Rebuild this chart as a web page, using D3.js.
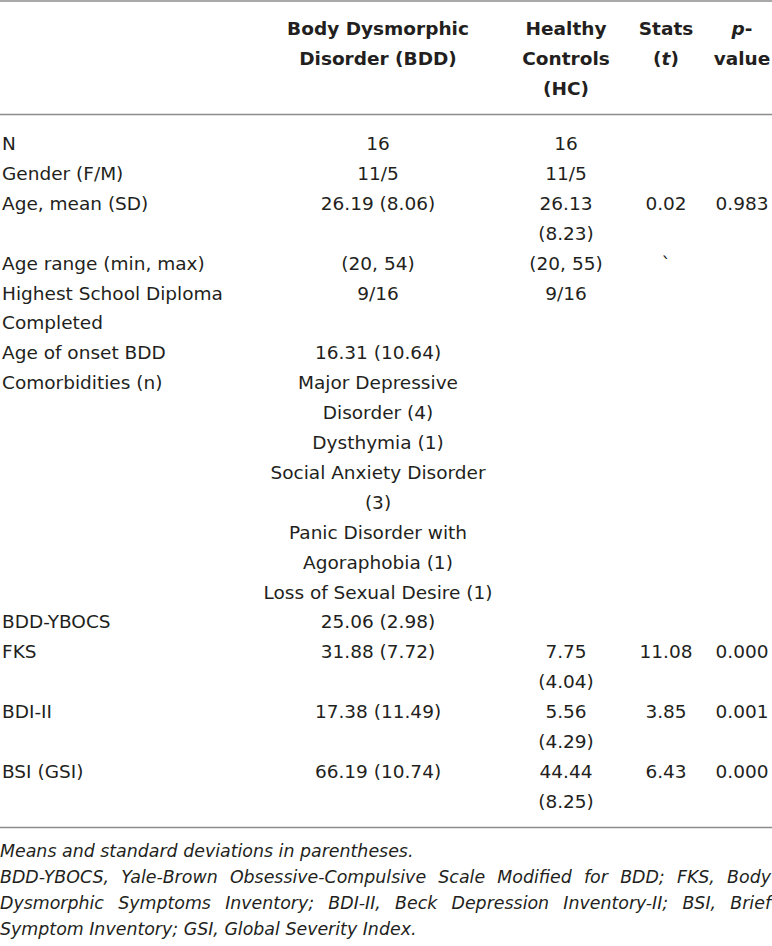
<!DOCTYPE html>
<html>
<head>
<meta charset="utf-8">
<script src="https://cdn.jsdelivr.net/npm/d3@7/dist/d3.min.js"></script>
<style>
  html, body { margin: 0; padding: 0; background: #fff; }
  svg { display: block; }
  text { font-family: "DejaVu Sans", sans-serif; fill: #231f20; }
</style>
</head>
<body>
<svg id="chart" width="772" height="946"></svg>
<script>
// ---- data ----
const columns = ["label", "bdd", "hc", "t", "p"];
const headerLines = {
  label: [],
  bdd: ["Body Dysmorphic", "Disorder (BDD)"],
  hc: ["Healthy", "Controls", "(HC)"],
  t: ["Stats", "(t)"],
  p: ["p-", "value"]
};
const rowLabels = [
  ["N"], ["Gender (F/M)"], ["Age, mean (SD)"], ["Age range (min, max)"],
  ["Highest School Diploma", "Completed"], ["Age of onset BDD"], ["Comorbidities (n)"],
  ["BDD-YBOCS"], ["FKS"], ["BDI-II"], ["BSI (GSI)"]
];
const bddValues = [
  ["16"], ["11/5"], ["26.19 (8.06)"], ["(20, 54)"], ["9/16"], ["16.31 (10.64)"],
  ["Major Depressive", "Disorder (4)", "Dysthymia (1)", "Social Anxiety Disorder", "(3)",
   "Panic Disorder with", "Agoraphobia (1)", "Loss of Sexual Desire (1)"],
  ["25.06 (2.98)"], ["31.88 (7.72)"], ["17.38 (11.49)"], ["66.19 (10.74)"]
];
const hcValues = [
  ["16"], ["11/5"], ["26.13", "(8.23)"], ["(20, 55)"], ["9/16"], [], [], [],
  ["7.75", "(4.04)"], ["5.56", "(4.29)"], ["44.44", "(8.25)"]
];
const tValues = [[], [], ["0.02"], ["`"], [], [], [], [], ["11.08"], ["3.85"], ["6.43"]];
const pValues = [[], [], ["0.983"], [], [], [], [], [], ["0.000"], ["0.001"], ["0.000"]];
const footnotes = [
  "Means and standard deviations in parentheses.",
  "BDD-YBOCS, Yale-Brown Obsessive-Compulsive Scale Modified for BDD; FKS, Body",
  "Dysmorphic Symptoms Inventory; BDI-II, Beck Depression Inventory-II; BSI, Brief",
  "Symptom Inventory; GSI, Global Severity Index."
];

// ---- layout ----
const W = 772;
const svg = d3.select("#chart");
const colX = d3.scaleOrdinal().domain(columns).range([2, 378, 566, 666, 742]);
const colAnchor = d3.scaleOrdinal().domain(columns).range(["start", "middle", "middle", "middle", "middle"]);

// rows -> starting line index
const cells = { label: rowLabels, bdd: bddValues, hc: hcValues, t: tValues, p: pValues };
let start = 0;
const rows = rowLabels.map((_, i) => {
  const n = d3.max(columns, c => cells[c][i].length);
  const r = { i, start, n };
  start += n;
  return r;
});
const totalLines = start;
const yLine = d3.scaleLinear().domain([0, totalLines - 1]).range([150, 150 + (totalLines - 1) * 29.9]);
const yHead = d3.scaleLinear().domain([0, 2]).range([35, 95]);

// rules
const rules = [1, 114.5, 827.5];
svg.selectAll("line.rule").data(rules).join("line")
  .attr("class", "rule")
  .attr("x1", 0).attr("x2", W)
  .attr("y1", d => d).attr("y2", d => d)
  .attr("stroke", "#8c8c8c").attr("stroke-width", 1.3);

// header
const head = svg.append("g").attr("font-size", 18.5).attr("font-weight", "bold");
columns.forEach(c => {
  headerLines[c].forEach((line, k) => {
    const t = head.append("text")
      .attr("x", colX(c)).attr("y", yHead(k))
      .attr("text-anchor", colAnchor(c));
    if (c === "t" && line === "(t)") {
      t.append("tspan").text("(");
      t.append("tspan").attr("font-style", "italic").text("t");
      t.append("tspan").text(")");
    } else if (c === "p" && line === "p-") {
      t.append("tspan").attr("font-style", "italic").text("p");
      t.append("tspan").text("-");
    } else {
      t.text(line);
    }
  });
});

// body
const body = svg.append("g").attr("font-size", 18.5);
rows.forEach(r => {
  columns.forEach(c => {
    cells[c][r.i].forEach((line, k) => {
      body.append("text")
        .attr("x", colX(c)).attr("y", yLine(r.start + k))
        .attr("text-anchor", colAnchor(c))
        .text(line);
    });
  });
});

// footnotes (justified lines 2-3)
const yFoot = d3.scaleLinear().domain([0, 3]).range([857, 935]);
const foot = svg.append("g").attr("font-size", 17.4).attr("font-style", "italic");
footnotes.forEach((line, k) => {
  const justify = k === 1 || k === 2;
  if (!justify) {
    foot.append("text").attr("x", 0).attr("y", yFoot(k)).text(line);
    return;
  }
  const words = line.split(" ");
  const g = foot.append("g");
  const nodes = words.map(w => g.append("text").attr("y", yFoot(k)).text(w));
  const widths = nodes.map(n => n.node().getComputedTextLength());
  const gap = (W - 1 - d3.sum(widths)) / (words.length - 1);
  let x = 0;
  nodes.forEach((n, j) => { n.attr("x", x); x += widths[j] + gap; });
});
</script>
</body>
</html>
